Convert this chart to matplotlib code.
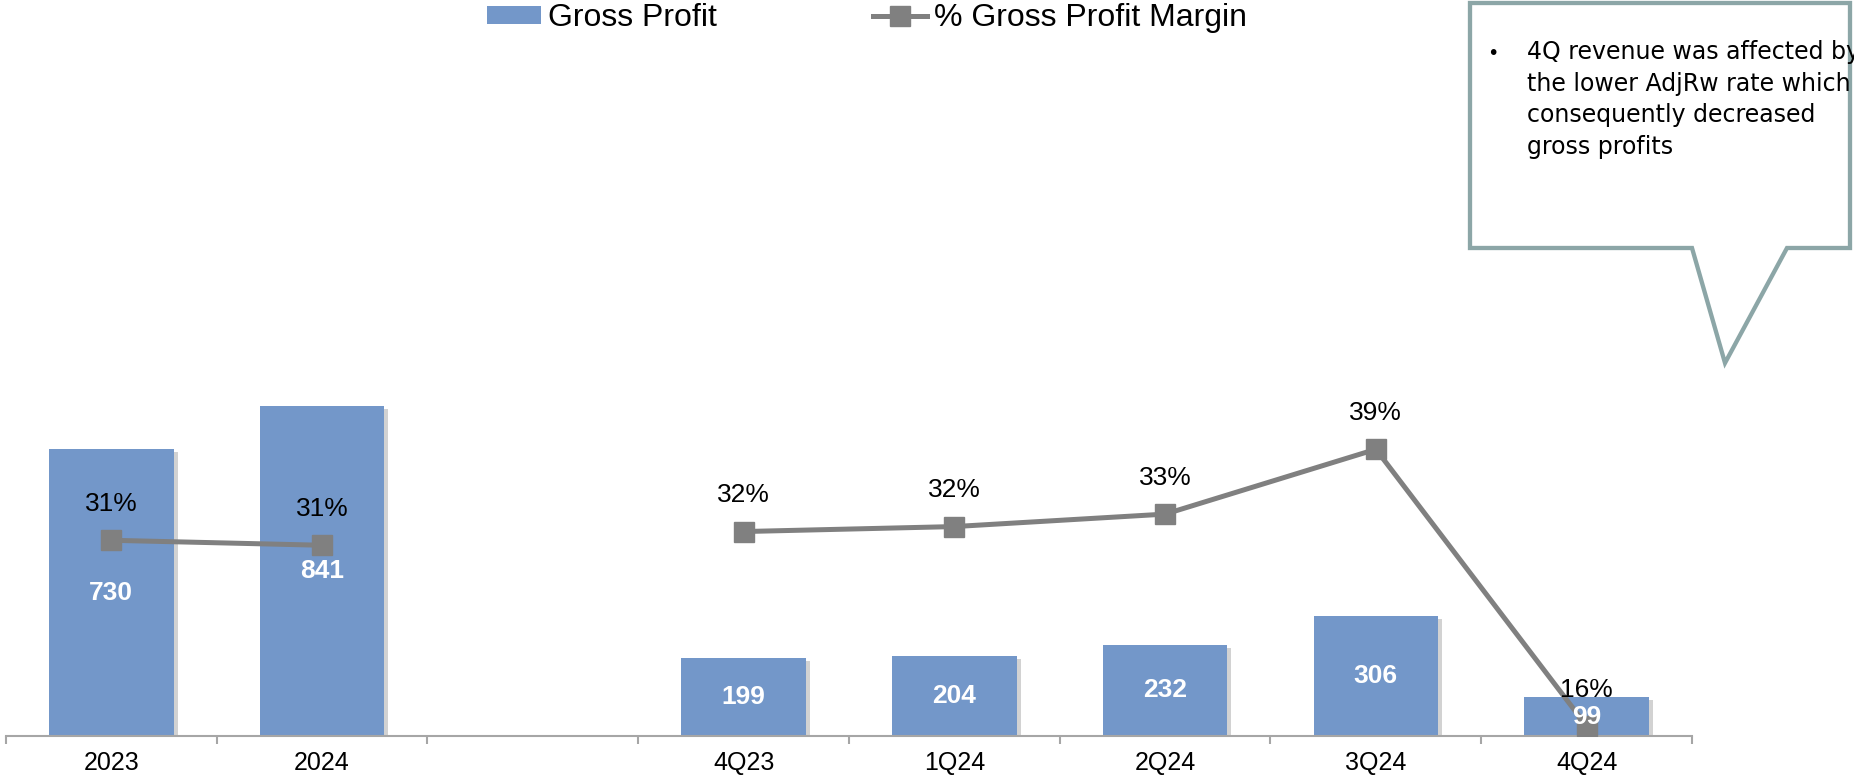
import numpy as np
import matplotlib

matplotlib.use("Agg")
import matplotlib.pyplot as plt  # noqa: E402
from matplotlib.lines import Line2D  # noqa: E402
from matplotlib.patches import Patch, Polygon  # noqa: E402
import matplotlib.patheffects as pe  # noqa: E402

# data
years = ["2023", "2024"]
quarters = ["4Q23", "1Q24", "2Q24", "3Q24", "4Q24"]
gp_years = [730, 841]
gp_quarters = [199, 204, 232, 306, 99]
margin_years = [31.3, 30.9]
margin_quarters = [32.0, 32.4, 33.4, 38.6, 16.4]
note_lines = [
    "4Q revenue was affected by",
    "the lower AdjRw rate which",
    "consequently decreased",
    "gross profits",
]

BAR = "#7397c9"
LINE = "#808080"
AXIS = "#a6a6a6"
BOX = "#8ca6a7"

W, H = 1854, 782
plt.rcParams["font.family"] = ["Liberation Sans", "DejaVu Sans"]

fig = plt.figure(figsize=(W / 100, H / 100), dpi=100)


def fx(px):
    return px / W


def fy(py):
    return 1 - py / H


# axes box in pixels: x 6..1692, baseline at 736, top at 40
ax = fig.add_axes([fx(6), fy(736), fx(1692 - 6), (736 - 40) / H])
ax2 = ax.twinx()

x_years = np.arange(len(years))
x_quarters = np.arange(len(quarters)) + len(years) + 1
labels = years + [""] + quarters
xpos = np.arange(len(labels))

shadow = [pe.SimplePatchShadow(offset=(3, -2), shadow_rgbFace="#808080", alpha=0.35), pe.Normal()]
bars = ax.bar(np.r_[x_years, x_quarters], gp_years + gp_quarters, width=0.59, color=BAR, zorder=2)
for b in bars:
    b.set_path_effects(shadow)

ax.set_xlim(-0.5, len(labels) - 0.5)
ax.set_ylim(0, 696 / 0.3925)
ax.set_xticks(xpos)
ax.set_xticklabels(labels, fontsize=18)
ax.set_xticks(np.arange(-0.5, len(labels), 1), minor=True)
ax.tick_params(axis="x", which="major", length=0, pad=11)
ax.tick_params(axis="x", which="minor", length=5.8, width=1.5, color=AXIS, direction="out")
ax.set_yticks([])
for s in ("left", "right", "top"):
    ax.spines[s].set_visible(False)
ax.spines["bottom"].set_color(AXIS)
ax.spines["bottom"].set_linewidth(1.5)

# margin line on the secondary axis
ax2.set_ylim((930.4 - 736) / 12.464, (930.4 - 40) / 12.464)
ax2.set_yticks([])
for s in ax2.spines.values():
    s.set_visible(False)
style = dict(color=LINE, lw=3.6, marker="s", markersize=13.7, zorder=3, solid_joinstyle="miter")
ax2.plot(x_years, margin_years, **style)
ax2.plot(x_quarters, margin_quarters, **style)
for xv, v in zip(np.r_[x_years, x_quarters], margin_years + margin_quarters):
    ax2.annotate(f"{round(v)}%", (xv, v), xytext=(0, 26), textcoords="offset points",
                 ha="center", va="center", fontsize=19, color="black", zorder=4)

# bar values drawn on ax2 so they sit above the markers
for xv, v in zip(np.r_[x_years, x_quarters], gp_years + gp_quarters):
    ax2.text(xv, v / 2, f"{v}", transform=ax.transData, ha="center", va="center",
             fontsize=19, fontweight="bold", color="white", zorder=5)

handles = [
    Patch(facecolor=BAR, edgecolor="none"),
    Line2D([], [], color=LINE, lw=3.6, marker="s", markersize=13.7),
]
fig.legend(handles, ["Gross Profit", "% Gross Profit Margin"], loc="upper left",
           bbox_to_anchor=(fx(487), fy(3)), ncol=2, frameon=False, fontsize=23,
           borderpad=0, borderaxespad=0, handlelength=1.7, handleheight=0.5,
           handletextpad=0.2, columnspacing=4.9)

# callout box
pts = [(1470, 3), (1850, 3), (1850, 248), (1787, 248), (1725, 363), (1692, 248), (1470, 248)]
box = Polygon([(fx(a), fy(b)) for a, b in pts], closed=True, transform=fig.transFigure,
              facecolor="white", edgecolor=BOX, lw=3.1, joinstyle="miter", zorder=5)
fig.add_artist(box)
fig.text(fx(1493), fy(59), "\u2022", ha="center", va="baseline", fontsize=14,
         family="DejaVu Sans", zorder=6)
for i, line in enumerate(note_lines):
    t = fig.text(fx(1527), fy(59 + 31.6 * i), line, ha="left", va="baseline",
                 fontsize=17, family="DejaVu Sans", color="black", zorder=6)
    t.set_clip_path(box)

fig.savefig("out.png", dpi=100)
